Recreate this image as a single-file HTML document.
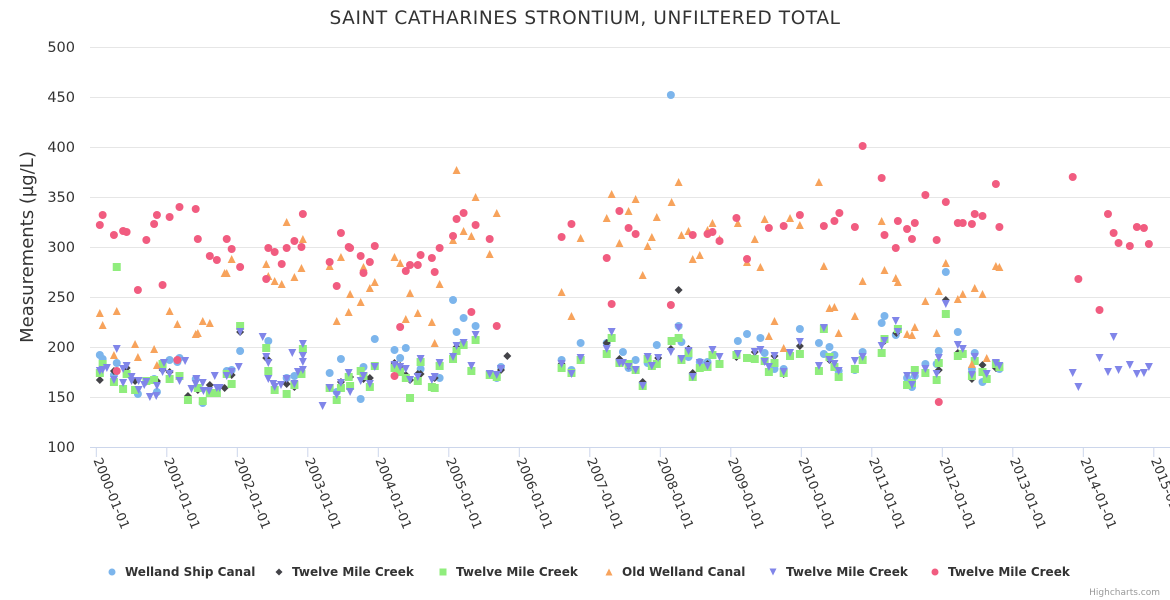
<!DOCTYPE html>
<html><head><meta charset="utf-8">
<style>
html,body{margin:0;padding:0;background:#fff;}
svg{display:block;font-family:"DejaVu Sans","Liberation Sans",sans-serif;}
</style></head>
<body>
<svg id="chart" width="1170" height="600" viewBox="0 0 1170 600" xmlns="http://www.w3.org/2000/svg">
<rect width="1170" height="600" fill="#fff"/>
<text x="585" y="24" text-anchor="middle" font-size="18.5" letter-spacing="0.6" fill="#333">SAINT CATHARINES STRONTIUM, UNFILTERED TOTAL</text>
<text transform="translate(33,247) rotate(-90)" text-anchor="middle" font-size="18" fill="#333">Measurements (µg/L)</text>
<g id="grid"></g><g id="yticks"></g><g id="xaxis"></g><g id="marks"></g><g id="legend"></g>
<text x="1160" y="595" text-anchor="end" font-size="9" fill="#999">Highcharts.com</text>
</svg>
<script>
const yTicks=[100,150,200,250,300,350,400,450,500];
const xTickYears=[2000,2001,2002,2003,2004,2005,2006,2007,2008,2009,2010,2011,2012,2013,2014,2015];
const seriesNames=["Welland Ship Canal","Twelve Mile Creek","Twelve Mile Creek","Old Welland Canal","Twelve Mile Creek","Twelve Mile Creek"];
const seriesColors=["#7cb5ec","#434348","#90ed7d","#f7a35c","#8085e9","#f15c80"];
const seriesSymbols=["circle","diamond","square","triangle","triangle-down","circle"];
// [years since 2000, value]
const blueData=[[0.05,192],[0.09,188],[0.25,172],[0.29,184],[0.59,153],[0.82,168],[0.86,155],[1.04,187],[1.15,185],[1.18,189],[1.41,168],[1.51,144],[1.85,176],[1.92,177],[2.04,196],[2.44,206],[2.70,169],[2.81,171],[3.31,174],[3.41,155],[3.47,188],[3.75,148],[3.79,180],[3.95,208],[4.23,197],[4.31,189],[4.39,199],[4.60,178],[4.87,169],[5.06,247],[5.11,215],[5.21,229],[5.38,221],[5.68,169],[5.74,180],[6.60,187],[6.74,177],[6.87,204],[7.24,204],[7.47,195],[7.55,179],[7.65,187],[7.82,184],[7.95,202],[8.15,452],[8.26,221],[8.30,205],[8.40,190],[8.56,185],[8.67,185],[9.10,206],[9.23,213],[9.42,209],[9.48,194],[9.62,178],[9.75,178],[9.98,218],[10.25,204],[10.32,193],[10.40,200],[10.47,192],[10.53,176],[10.76,177],[10.87,195],[11.14,224],[11.18,231],[11.34,212],[11.37,218],[11.50,169],[11.57,160],[11.61,171],[11.76,183],[11.92,183],[11.95,196],[12.05,275],[12.22,215],[12.42,178],[12.46,194],[12.57,165],[12.76,182],[12.81,178]];
const blackData=[[0.05,167],[0.09,181],[0.25,176],[0.43,179],[0.55,166],[0.86,166],[0.94,177],[1.04,175],[1.18,171],[1.30,151],[1.44,157],[1.61,162],[1.82,159],[1.92,172],[2.04,215],[2.41,189],[2.44,187],[2.70,163],[2.81,160],[2.93,197],[3.31,159],[3.47,165],[3.60,170],[3.79,168],[3.88,169],[4.23,184],[4.31,181],[4.39,172],[4.45,167],[4.56,173],[4.60,173],[4.80,169],[4.87,184],[5.06,191],[5.11,200],[5.32,177],[5.74,177],[5.83,191],[6.60,183],[7.24,204],[7.42,188],[7.55,181],[7.75,165],[7.97,189],[8.15,198],[8.26,257],[8.40,198],[8.46,174],[8.67,183],[9.08,190],[9.34,195],[9.62,191],[9.75,173],[9.98,201],[10.32,218],[10.40,187],[11.18,206],[11.35,214],[11.95,177],[12.05,247],[12.22,194],[12.42,168],[12.57,182],[12.76,179]];
const greenData=[[0.05,174],[0.09,183],[0.25,165],[0.29,280],[0.38,158],[0.43,173],[0.55,157],[0.71,166],[0.82,167],[0.94,183],[1.04,168],[1.18,171],[1.30,147],[1.44,159],[1.51,146],[1.61,154],[1.71,154],[1.85,173],[1.92,163],[2.04,221],[2.41,199],[2.44,176],[2.53,157],[2.70,153],[2.81,162],[2.91,173],[2.93,198],[3.31,159],[3.41,147],[3.47,159],[3.58,170],[3.60,161],[3.75,176],[3.79,171],[3.88,160],[3.95,181],[4.23,179],[4.31,175],[4.39,169],[4.45,149],[4.56,166],[4.60,185],[4.76,160],[4.80,159],[4.87,181],[5.06,188],[5.11,196],[5.21,202],[5.32,176],[5.38,207],[5.58,172],[5.68,170],[6.60,179],[6.74,174],[6.87,187],[7.24,193],[7.31,209],[7.42,184],[7.55,183],[7.65,177],[7.75,161],[7.82,188],[7.88,181],[7.95,183],[8.16,206],[8.26,209],[8.30,187],[8.40,194],[8.46,170],[8.56,179],[8.67,180],[8.74,192],[8.84,183],[9.08,192],[9.23,189],[9.34,188],[9.48,186],[9.54,175],[9.62,184],[9.75,174],[9.84,191],[9.98,193],[10.25,176],[10.32,218],[10.40,190],[10.47,180],[10.53,170],[10.76,178],[10.87,187],[11.14,194],[11.18,208],[11.37,218],[11.50,162],[11.57,164],[11.61,177],[11.76,174],[11.92,167],[11.95,184],[12.05,233],[12.22,191],[12.29,193],[12.42,171],[12.46,186],[12.57,175],[12.63,168],[12.76,183],[12.81,180]];
const orangeData=[[0.05,234],[0.09,222],[0.25,192],[0.29,236],[0.55,203],[0.59,190],[0.82,198],[0.86,182],[1.04,236],[1.15,223],[1.41,213],[1.44,214],[1.51,226],[1.61,224],[1.82,274],[1.85,274],[1.92,288],[2.41,283],[2.44,271],[2.53,266],[2.63,263],[2.70,325],[2.81,270],[2.91,279],[2.93,308],[3.31,281],[3.41,226],[3.47,290],[3.58,235],[3.60,253],[3.75,245],[3.79,280],[3.88,259],[3.95,265],[4.23,290],[4.31,284],[4.39,228],[4.45,254],[4.56,234],[4.76,225],[4.80,204],[4.87,263],[5.06,307],[5.11,377],[5.21,316],[5.32,311],[5.38,350],[5.58,293],[5.68,334],[6.60,255],[6.74,231],[6.87,309],[7.24,329],[7.31,353],[7.42,304],[7.55,336],[7.65,348],[7.75,272],[7.82,301],[7.88,310],[7.95,330],[8.16,345],[8.26,365],[8.30,312],[8.40,316],[8.46,288],[8.56,292],[8.67,317],[8.74,324],[8.84,308],[9.10,324],[9.23,285],[9.34,308],[9.42,280],[9.48,328],[9.54,211],[9.62,226],[9.75,199],[9.84,329],[9.98,322],[10.25,365],[10.32,281],[10.40,239],[10.47,240],[10.53,214],[10.76,231],[10.87,266],[11.14,326],[11.18,277],[11.34,269],[11.37,265],[11.50,213],[11.57,212],[11.61,220],[11.76,246],[11.92,214],[11.95,256],[12.05,284],[12.22,248],[12.29,253],[12.42,183],[12.46,259],[12.57,253],[12.63,189],[12.76,281],[12.81,280]];
const purpleData=[[0.05,176],[0.09,177],[0.15,179],[0.25,167],[0.29,198],[0.38,178],[0.43,181],[0.38,164],[0.50,170],[0.50,166],[0.60,166],[0.60,157],[0.68,162],[0.71,165],[0.76,150],[0.85,151],[0.86,161],[0.94,175],[0.96,184],[1.04,173],[1.18,166],[1.26,186],[1.35,158],[1.42,168],[1.41,163],[1.51,164],[1.52,156],[1.60,156],[1.68,171],[1.71,159],[1.75,159],[1.85,171],[1.92,175],[2.02,180],[2.04,215],[2.36,210],[2.41,190],[2.44,184],[2.44,168],[2.51,163],[2.53,160],[2.62,162],[2.70,168],[2.78,194],[2.81,163],[2.86,175],[2.93,203],[2.93,191],[2.93,185],[2.93,177],[3.21,141],[3.31,159],[3.41,152],[3.47,164],[3.60,155],[3.58,174],[3.75,166],[3.79,171],[3.88,163],[3.95,180],[4.23,182],[4.31,180],[4.39,178],[4.45,167],[4.56,170],[4.60,188],[4.76,167],[4.80,170],[4.87,184],[5.06,190],[5.11,201],[5.21,204],[5.32,181],[5.38,212],[5.58,173],[5.68,172],[5.74,178],[6.60,183],[6.74,173],[6.87,189],[7.24,198],[7.31,215],[7.42,184],[7.47,184],[7.55,180],[7.65,177],[7.75,161],[7.82,190],[7.88,181],[7.97,189],[8.15,195],[8.26,219],[8.30,188],[8.40,196],[8.46,170],[8.56,184],[8.67,181],[8.74,197],[8.84,190],[9.10,193],[9.34,195],[9.42,197],[9.48,185],[9.54,180],[9.62,191],[9.75,175],[9.84,194],[9.98,205],[10.25,181],[10.32,219],[10.40,187],[10.47,183],[10.53,176],[10.76,186],[10.87,190],[11.14,201],[11.18,206],[11.34,226],[11.37,215],[11.50,171],[11.57,162],[11.61,171],[11.76,178],[11.92,173],[11.95,189],[12.05,243],[12.22,202],[12.29,198],[12.42,172],[12.46,190],[12.63,173],[12.76,184],[12.81,181],[13.85,174],[13.93,160],[14.23,189],[14.35,175],[14.43,210],[14.50,177],[14.66,182],[14.76,173],[14.86,174],[14.93,180]];
const pinkData=[[0.05,322],[0.09,332],[0.25,312],[0.38,316],[0.43,315],[0.29,176],[0.59,257],[0.71,307],[0.82,323],[0.86,332],[0.94,262],[1.04,330],[1.15,187],[1.18,340],[1.41,338],[1.44,308],[1.61,291],[1.71,287],[1.85,308],[1.92,298],[2.04,280],[2.41,268],[2.44,299],[2.53,295],[2.63,283],[2.70,299],[2.81,306],[2.91,300],[2.93,333],[3.31,285],[3.41,261],[3.47,314],[3.58,300],[3.60,299],[3.75,291],[3.79,274],[3.88,285],[3.95,301],[4.23,171],[4.31,220],[4.39,276],[4.45,282],[4.56,282],[4.60,292],[4.76,289],[4.80,275],[4.87,299],[5.06,311],[5.11,328],[5.21,334],[5.32,235],[5.38,322],[5.58,308],[5.68,221],[6.60,310],[6.74,323],[7.24,289],[7.31,243],[7.42,336],[7.55,319],[7.65,313],[8.15,242],[8.46,312],[8.67,313],[8.74,315],[8.84,306],[9.08,329],[9.23,288],[9.54,319],[9.75,321],[9.98,332],[10.32,321],[10.47,326],[10.54,334],[10.76,320],[10.87,401],[11.14,369],[11.18,312],[11.34,299],[11.37,326],[11.50,318],[11.57,308],[11.61,324],[11.76,352],[11.92,307],[11.95,145],[12.05,345],[12.22,324],[12.29,324],[12.42,323],[12.46,333],[12.57,331],[12.76,363],[12.81,320],[13.85,370],[13.93,268],[14.23,237],[14.35,333],[14.43,314],[14.50,304],[14.66,301],[14.76,320],[14.86,319],[14.93,303]];
const allSeries=[blueData,blackData,greenData,orangeData,purpleData,pinkData];

const NS="http://www.w3.org/2000/svg";
const X0=96.3, PXY=70.5, Y0=447, PXV=1.0, PLOT_L=90, PLOT_R=1170;
function xScale(t){return X0+t*PXY;}
function yScale(v){return Y0-(v-100)*PXV;}
function mk(tag,attrs,parent){const e=document.createElementNS(NS,tag);for(const k in attrs)e.setAttribute(k,attrs[k]);parent.appendChild(e);return e;}

const grid=document.getElementById('grid'), yt=document.getElementById('yticks');
yTicks.forEach(v=>{
  const y=yScale(v);
  if(v>100){const l=mk('line',{x1:PLOT_L,x2:PLOT_R,y1:y+0.5,y2:y+0.5,stroke:'#e6e6e6','stroke-width':1},grid);
  
  }
  const t=mk('text',{x:75,y:y+5,'text-anchor':'end','font-size':14.5,fill:'#333'},yt);
  t.textContent=v;
  
  
});
const xa=document.getElementById('xaxis');
const axl=mk('line',{x1:PLOT_L,x2:PLOT_R,y1:Y0+0.5,y2:Y0+0.5,stroke:'#ccd6eb','stroke-width':1},xa);


xTickYears.forEach(yr=>{
  const x=xScale(yr-2000);
  const tk=mk('line',{x1:x,x2:x,y1:Y0,y2:Y0+10,stroke:'#ccd6eb'},xa);
  
  
  const t=mk('text',{transform:`translate(${x-3},${Y0+13}) rotate(68)`,'font-size':13,fill:'#333'},xa);
  t.textContent=yr+'-01-01';
  
  
});
function symbol(sym,x,y,color,parent,r){
  r=r||4;
  if(sym==='circle')return mk('circle',{cx:x,cy:y,r:r,fill:color},parent);
  if(sym==='square')return mk('rect',{x:x-r,y:y-r,width:2*r,height:2*r,fill:color},parent);
  if(sym==='diamond')return mk('path',{d:`M${x} ${y-r}L${x+r} ${y}L${x} ${y+r}L${x-r} ${y}Z`,fill:color},parent);
  if(sym==='triangle')return mk('path',{d:`M${x} ${y-r}L${x+r} ${y+r}L${x-r} ${y+r}Z`,fill:color},parent);
  return mk('path',{d:`M${x-r} ${y-r}L${x+r} ${y-r}L${x} ${y+r}Z`,fill:color},parent);
}
const marks=document.getElementById('marks');
allSeries.forEach((data,si)=>{
  const g=mk('g',{},marks);
  
  
  data.forEach(d=>{
    const p=symbol(seriesSymbols[si],xScale(d[0]),yScale(d[1]),seriesColors[si],g);
    
    
  });
});
const lg=document.getElementById('legend');
const legendX=[112,279,443,609,773,935];
seriesNames.forEach((n,i)=>{
  const g=mk('g',{},lg);
  
  
  symbol(seriesSymbols[i],legendX[i],572,seriesColors[i],g,3.5);
  const t=mk('text',{x:legendX[i]+13,y:576,'font-size':12,'font-weight':'bold',fill:'#333'},g);
  t.textContent=n;
});
</script>
</body></html>
